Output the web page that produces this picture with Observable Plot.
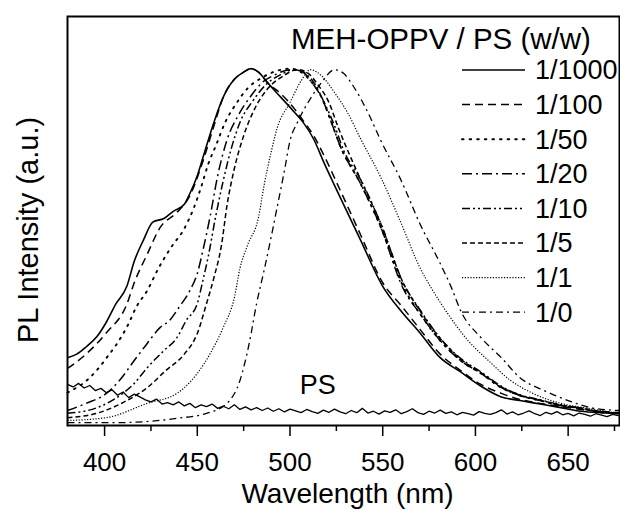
<!DOCTYPE html>
<html><head><meta charset="utf-8">
<script src="https://cdn.jsdelivr.net/npm/d3@7"></script>
<script src="https://cdn.jsdelivr.net/npm/@observablehq/plot@0.6"></script>
<style>body{margin:0;background:#fff;} #chart{width:620px;height:511px;}</style>
</head><body><div id="chart"></div>
<script>
// ---- data (wavelength nm, normalized PL intensity) ----
const seriesNames = ["1/1000","1/100","1/50","1/20","1/10","1/5","1/1","1/0"];
const legendTitle = "MEH-OPPV / PS (w/w)";
const xTicks = [400,450,500,550,600,650];
const xMinorTicks = [425,475,525,575,625,675];

const wl1000 = [380,385,390,396,401,406,412,416,421,426,432,437,443,446,450,453,459,464,470,475,479,483,488,495,502,507,513,518,527,538,550,560,570,581,592,603,614,624,635,646,657,668,678];
const pl1000 = [0.19,0.20,0.22,0.25,0.29,0.34,0.39,0.46,0.52,0.57,0.58,0.60,0.62,0.65,0.70,0.75,0.85,0.92,0.97,0.99,1.0,0.99,0.96,0.92,0.88,0.85,0.80,0.74,0.64,0.52,0.39,0.32,0.26,0.19,0.15,0.11,0.08,0.07,0.06,0.05,0.04,0.036,0.034];

const wl100 = [380,390,401,412,416,423,430,439,446,453,459,464,470,475,479,483,488,495,502,507,513,518,527,538,550,560,570,581,592,603,614,624,635,646,657,668,678];
const pl100 = [0.16,0.20,0.26,0.34,0.40,0.48,0.555,0.597,0.644,0.74,0.84,0.92,0.97,0.99,1.0,0.99,0.96,0.93,0.89,0.855,0.81,0.76,0.66,0.535,0.40,0.336,0.27,0.20,0.154,0.115,0.09,0.073,0.062,0.053,0.045,0.039,0.036];

const wl50 = [380,392,397,402,406,413,417,423,429,436,443,448,452,456,460,465,471,477,484,492,500,506,511,517,522,527,538,549,561,570,581,592,603,614,624,635,646,657,668,678];
const pl50 = [0.092,0.134,0.162,0.196,0.224,0.286,0.331,0.378,0.44,0.50,0.552,0.608,0.667,0.734,0.784,0.849,0.902,0.944,0.972,0.992,1.0,0.99,0.966,0.92,0.854,0.784,0.678,0.555,0.39,0.314,0.238,0.182,0.146,0.106,0.084,0.07,0.056,0.048,0.036,0.034];

const wl20 = [380,390,401,408,416,423,430,435,440,446,450,453,457,461,466,472,479,485,492,500,506,511,517,522,527,538,549,561,570,581,592,603,614,624,635,646,657,668,678];
const pl20 = [0.042,0.062,0.09,0.126,0.182,0.23,0.275,0.294,0.33,0.378,0.426,0.49,0.588,0.70,0.80,0.868,0.924,0.961,0.983,0.997,0.994,0.966,0.919,0.854,0.784,0.678,0.555,0.384,0.314,0.238,0.182,0.146,0.106,0.084,0.07,0.056,0.048,0.039,0.036];

const wl10 = [380,396,406,416,423,432,439,444,450,453,456,460,464,468,473,480,487,495,502,507,513,518,524,529,538,549,561,570,581,592,603,614,624,635,646,657,668,678];
const pl10 = [0.034,0.05,0.076,0.118,0.162,0.21,0.246,0.294,0.342,0.406,0.476,0.588,0.686,0.77,0.849,0.91,0.955,0.983,0.997,0.99,0.96,0.91,0.84,0.77,0.69,0.565,0.40,0.325,0.245,0.188,0.15,0.11,0.086,0.072,0.058,0.049,0.038,0.035];

const wl5 = [380,397,412,423,433,443,450,455,459,463,466,470,475,481,488,496,504,510,515,521,526,538,549,561,570,581,592,603,614,624,635,646,657,668,678];
const pl5 = [0.022,0.036,0.07,0.106,0.154,0.20,0.258,0.342,0.415,0.504,0.616,0.72,0.812,0.888,0.944,0.978,0.997,0.986,0.955,0.905,0.835,0.69,0.565,0.40,0.322,0.244,0.186,0.148,0.108,0.085,0.071,0.057,0.048,0.038,0.035];

const wl1 = [380,401,423,439,450,457,464,470,473,477,483,486,490,493,500,506,511,517,524,531,538,549,560,570,576,585,596,607,619,631,646,661,675];
const pl1 = [0.014,0.022,0.062,0.09,0.146,0.202,0.275,0.359,0.44,0.504,0.583,0.672,0.77,0.832,0.905,0.966,0.997,0.98,0.933,0.877,0.804,0.695,0.566,0.443,0.387,0.314,0.238,0.182,0.126,0.09,0.062,0.048,0.036];

const wl0 = [380,406,439,455,466,473,478,482,486,490,493,497,500,504,511,517,524,529,534,542,549,560,570,581,587,592,603,614,624,637,650,664,678];
const pl0 = [0.008,0.008,0.02,0.034,0.062,0.126,0.23,0.342,0.434,0.532,0.61,0.714,0.798,0.849,0.916,0.961,0.997,0.986,0.952,0.877,0.798,0.686,0.566,0.454,0.387,0.322,0.246,0.19,0.134,0.098,0.07,0.048,0.042];

// PS (polystyrene alone), sampled every 3 nm from 380 nm
const psStart = 380, psStep = 3;
const psPL = [0.115,0.108,0.118,0.105,0.112,0.098,0.104,
0.092,0.100,0.085,0.094,0.078,0.088,0.080,
0.072,0.066,0.074,0.060,0.064,0.058,0.066,
0.055,0.062,0.050,0.058,0.053,0.060,0.048,
0.054,0.047,0.058,0.045,0.052,0.044,0.050,
0.042,0.049,0.040,0.047,0.038,0.046,0.041,
0.036,0.045,0.039,0.034,0.043,0.037,0.046,
0.038,0.033,0.042,0.036,0.048,0.035,0.040,
0.032,0.041,0.037,0.044,0.033,0.039,0.047,
0.036,0.031,0.040,0.035,0.043,0.034,0.038,
0.030,0.037,0.033,0.029,0.039,0.034,0.031,
0.036,0.044,0.032,0.038,0.030,0.035,0.041,
0.033,0.028,0.037,0.032,0.039,0.030,0.034,
0.027,0.035,0.031,0.026,0.033,0.029,0.025,
0.031,0.028];
const psLabel = {text: "PS", wl: 515, pl: 0.112};

// ---- build ----
const wls = [wl1000, wl100, wl50, wl20, wl10, wl5, wl1, wl0];
const pls = [pl1000, pl100, pl50, pl20, pl10, pl5, pl1, pl0];
const dashes = [null, "8,5", "1.6,6", "10,4,2,4", "8,3,2,3,2,3", "5,3", "1.2,1.6", "7,4,2,4"];
const widths = [1.6, 1.5, 1.9, 1.5, 1.5, 1.5, 1.2, 1.3];
const caps = ["butt","butt","round","butt","butt","butt","butt","butt"];

const rows = seriesNames.flatMap((s, i) => wls[i].map((w, j) => ({series: s, wl: w, pl: pls[i][j]})));
const psRows = psPL.map((v, j) => ({wl: psStart + j * psStep, pl: v}));

const FONT = "Liberation Sans, Arial, Helvetica, sans-serif";
const marks = [];
seriesNames.forEach((s, i) => {
  const opts = {x: "wl", y: "pl", stroke: "black", strokeWidth: widths[i], curve: "monotone-x", strokeLinecap: caps[i]};
  if (dashes[i]) opts.strokeDasharray = dashes[i];
  marks.push(Plot.line(rows.filter(d => d.series === s), opts));
});
marks.push(Plot.line(psRows, {x: "wl", y: "pl", stroke: "black", strokeWidth: 1.3}));
marks.push(Plot.text([psLabel], {x: "wl", y: "pl", text: "text", fontSize: 27, fill: "black"}));
marks.push(Plot.frame({stroke: "black", strokeWidth: 2}));
marks.push(Plot.axisX({ticks: xMinorTicks, tickSize: 6, tickFormat: () => "", label: null, strokeWidth: 1.5}));
marks.push(Plot.axisX({ticks: xTicks, tickSize: 11, tickPadding: 16, fontSize: 26, label: null, strokeWidth: 1.5}));
marks.push(Plot.text(["Wavelength (nm)"], {frameAnchor: "bottom", lineAnchor: "middle", textAnchor: "middle", dy: 69, dx: 4, fontSize: 28}));
marks.push(Plot.text(["PL Intensity (a.u.)"], {frameAnchor: "left", lineAnchor: "middle", textAnchor: "middle", rotate: -90, dx: -39, dy: 9, fontSize: 29}));

const plot = Plot.plot({
  width: 620, height: 511,
  marginLeft: 67, marginTop: 16, marginRight: 1, marginBottom: 86,
  x: {domain: [380, 677.7], label: null},
  y: {domain: [0, 1.146], axis: null},
  style: {fontFamily: FONT, fontSize: "26px", color: "black", background: "white"},
  marks
});
document.getElementById("chart").appendChild(plot);

// legend drawn inside the plot area (top right)
const svg = d3.select(plot);
const lg = svg.append("g").attr("font-family", FONT).attr("fill", "black").attr("text-anchor", "start");
lg.append("text").attr("x", 291).attr("y", 49).attr("font-size", 29.5).text(legendTitle);
seriesNames.forEach((s, i) => {
  const yy = 70 + i * 34.6;
  const ln = lg.append("line").attr("x1", 462).attr("x2", 525).attr("y1", yy).attr("y2", yy)
    .attr("stroke", "black").attr("stroke-width", widths[i]).attr("stroke-linecap", caps[i]);
  if (dashes[i]) ln.attr("stroke-dasharray", dashes[i]);
  lg.append("text").attr("x", 535).attr("y", yy).attr("dy", "0.35em").attr("font-size", 27).text(s);
});
</script></body></html>
